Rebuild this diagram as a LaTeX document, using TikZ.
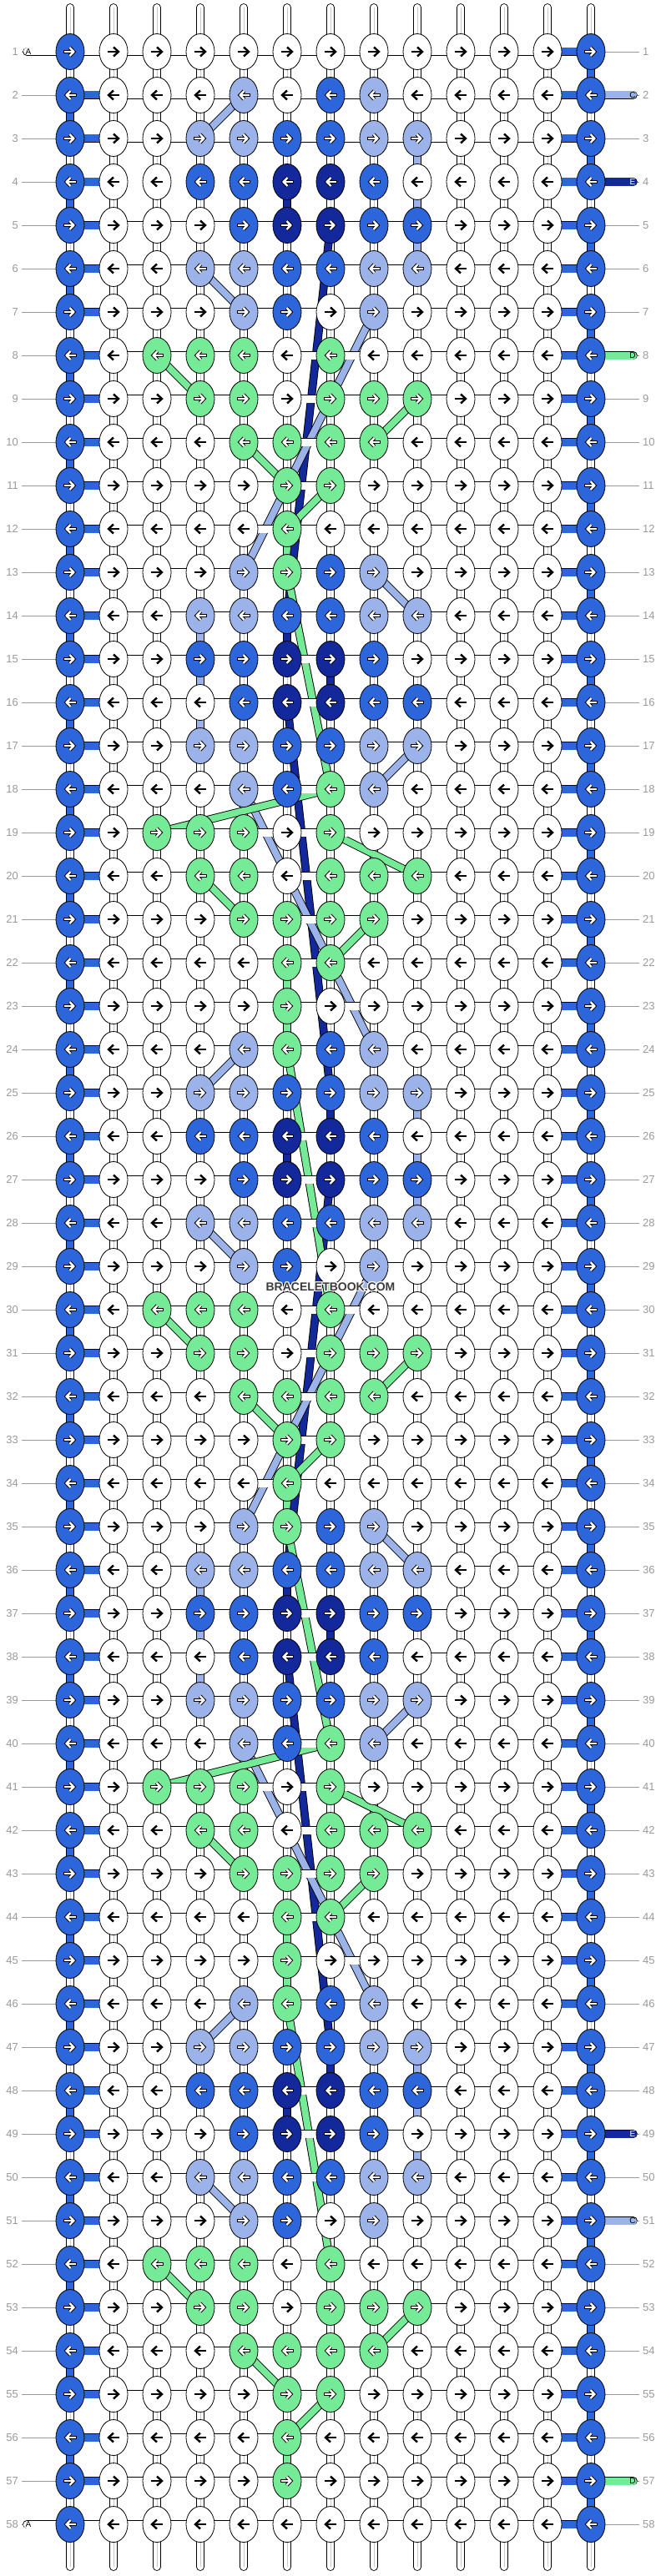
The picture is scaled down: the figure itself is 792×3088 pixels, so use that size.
\documentclass[tikz,border=0pt]{standalone}
\usepackage{fontspec}
\setmainfont{Liberation Sans}
\usetikzlibrary{shapes.geometric}
\definecolor{kB}{HTML}{2C66DA}
\definecolor{kL}{HTML}{9BB3E8}
\definecolor{kD}{HTML}{13289B}
\definecolor{kG}{HTML}{75EA97}
\definecolor{kW}{HTML}{FFFFFF}
\definecolor{lbl}{HTML}{9A9A9A}
\definecolor{midgray}{HTML}{C8C8C8}
\definecolor{wmk}{HTML}{3C3C3C}
\begin{document}
\begin{tikzpicture}[x=1pt,y=-1pt,
  knot/.style={ellipse, draw=black, line width=0.8pt, minimum width=34pt, minimum height=43pt, inner sep=0pt},
  thread/.style={double=#1, double distance=8pt, line width=0.9pt},
  hconn/.style={double=#1, double distance=9pt, line width=0.8pt},
  strand/.style={double=#1, double distance=8pt, line width=0.9pt},
  rowline/.style={draw=lbl, line width=0.8pt},
  rowlab/.style={text=lbl, font=\fontsize{13}{13}\selectfont, inner sep=0pt},
  taillab/.style={font=\fontsize{10}{10}\selectfont, inner sep=0pt},
  midline/.style={draw=midgray, line width=0.5pt},
  wmtext/.style={font=\bfseries\fontsize{14}{14}\selectfont, inner sep=0pt}
]
\useasboundingbox (0,0) rectangle (792,3088);
\fill[white] (0,0) rectangle (792,3088);

% grid coordinates
\foreach \r in {1,...,58}{
  \foreach \c in {1,...,13}{
    \coordinate (p-\r-\c) at ({32+52*\c},{10+52*\r});
  }
}

% row lines and labels
\foreach \r in {1,...,58}{
  \draw[rowline] (26,{10+52*\r}) -- (p-\r-1);
  \draw[rowline] (p-\r-13) -- (766,{10+52*\r});
  \node[rowlab, anchor=east] (ll-\r) at (22,{10+52*\r}) {\r};
  \node[rowlab, anchor=west] (rl-\r) at (770,{10+52*\r}) {\r};
}

% top and bottom thread ends
\foreach \c in {1,...,13}{
  \coordinate (t-\c) at ({32+52*\c},9);
  \coordinate (b-\c) at ({32+52*\c},3077);
  \draw[thread=white, line cap=round] (t-\c) -- (p-1-\c);
  \draw[midline] (t-\c) -- (p-1-\c);
  \draw[thread=white, line cap=round] (p-58-\c) -- (b-\c);
  \draw[midline] (p-58-\c) -- (b-\c);
}

% vertical connectors (white)
\foreach \r [evaluate=\r as \rn using {int(\r+1)}] in {1,...,57}{
  \foreach \c in {1,...,13}{
    \draw[thread=white] (p-\r-\c) -- (p-\rn-\c);
    \draw[midline] (p-\r-\c) -- (p-\rn-\c);
  }
}
% edge blue vertical connectors
\foreach \r [evaluate=\r as \rn using {int(\r+1)}] in {2,4,...,56}{
  \draw[thread=kB] (p-\r-1) -- (p-\rn-1);
}
\foreach \r [evaluate=\r as \rn using {int(\r+1)}] in {1,3,...,57}{
  \draw[thread=kB] (p-\r-13) -- (p-\rn-13);
}
% coloured vertical connectors
\foreach \r/\c/\col [evaluate=\r as \rn using {int(\r+1)}] in {
  4/6/kD, 14/6/kD, 15/7/kD, 25/7/kD, 26/6/kD, 36/6/kD, 37/7/kD, 47/7/kD, 48/6/kD,
  12/6/kG, 22/6/kG, 23/6/kG, 34/6/kG, 44/6/kG, 45/6/kG, 56/6/kG,
  3/9/kL, 4/9/kL, 5/9/kL, 14/4/kL, 15/4/kL, 16/4/kL, 25/9/kL, 26/9/kL, 27/9/kL,
  36/4/kL, 37/4/kL, 38/4/kL, 47/9/kL, 48/9/kL, 49/9/kL}{
  \draw[thread=\col] (p-\r-\c) -- (p-\rn-\c);
}

% hidden strands
\foreach \a/\b in {5-7/14-6, 16-6/25-7, 27-7/36-6, 38-6/47-7}{
  \draw[strand=kD] (p-\a) -- (p-\b);
}
\foreach \a/\b in {2-5/3-4, 6-4/7-5, 7-8/13-5, 13-8/14-9, 17-9/18-8, 18-5/24-8,
  24-5/25-4, 28-4/29-5, 29-8/35-5, 35-8/36-9, 39-9/40-8, 40-5/46-8, 46-5/47-4, 50-4/51-5}{
  \draw[strand=kL] (p-\a) -- (p-\b);
}
\foreach \a/\b in {8-3/9-4, 9-9/10-8, 10-5/11-6, 11-7/12-6, 13-6/18-7, 18-7/19-3,
  19-7/20-9, 20-4/21-5, 21-8/22-7, 24-6/30-7, 30-3/31-4, 31-9/32-8, 32-5/33-6,
  33-7/34-6, 35-6/40-7, 40-7/41-3, 41-7/42-9, 42-4/43-5, 43-8/44-7, 46-6/52-7,
  52-3/53-4, 53-9/54-8, 54-5/55-6, 55-7/56-6}{
  \draw[strand=kG] (p-\a) -- (p-\b);
}

% horizontal connectors
\foreach \r in {1,...,58}{
  \foreach \c [evaluate=\c as \cn using {int(\c+1)}] in {1,...,12}{
    \draw[hconn=white] (p-\r-\c) -- (p-\r-\cn);
  }
  \draw[hconn=kB] (p-\r-12) -- (p-\r-13);
}
\foreach \r in {2,...,57}{
  \draw[hconn=kB] (p-\r-1) -- (p-\r-2);
}

% tails
\coordinate (ta1) at (32.5,62);
\coordinate (ta58) at (32.5,3026);
\draw[hconn=white, line cap=round] (ta1) -- (p-1-1);
\draw[hconn=white, line cap=round] (ta58) -- (p-58-1);
\node[taillab] (la1) at (34,62) {A};
\node[taillab] (la58) at (34,3026) {A};
\foreach \r/\col/\txt/\tc in {2/kL/C/black, 4/kD/E/white, 8/kG/D/black, 49/kD/E/white, 51/kL/C/black, 57/kG/D/black}{
  \coordinate (te-\r) at (758.5,{10+52*\r});
  \draw[hconn=\col, line cap=round] (p-\r-13) -- (te-\r);
  \node[taillab, text=\tc] (lt-\r) at (758,{10+52*\r}) {\txt};
}

% knots
\foreach \r/\l in {
1/{B,W,W,W,W,W,W,W,W,W,W,W,B},
2/{B,W,W,W,L,W,B,L,W,W,W,W,B},
3/{B,W,W,L,L,B,B,L,L,W,W,W,B},
4/{B,W,W,B,B,D,D,B,W,W,W,W,B},
5/{B,W,W,W,B,D,D,B,B,W,W,W,B},
6/{B,W,W,L,L,B,B,L,L,W,W,W,B},
7/{B,W,W,W,L,B,W,L,W,W,W,W,B},
8/{B,W,G,G,G,W,G,W,W,W,W,W,B},
9/{B,W,W,G,G,W,G,G,G,W,W,W,B},
10/{B,W,W,W,G,G,G,G,W,W,W,W,B},
11/{B,W,W,W,W,G,G,W,W,W,W,W,B},
12/{B,W,W,W,W,G,W,W,W,W,W,W,B},
13/{B,W,W,W,L,G,B,L,W,W,W,W,B},
14/{B,W,W,L,L,B,B,L,L,W,W,W,B},
15/{B,W,W,B,B,D,D,B,W,W,W,W,B},
16/{B,W,W,W,B,D,D,B,B,W,W,W,B},
17/{B,W,W,L,L,B,B,L,L,W,W,W,B},
18/{B,W,W,W,L,B,G,L,W,W,W,W,B},
19/{B,W,G,G,G,W,G,W,W,W,W,W,B},
20/{B,W,W,G,G,W,G,G,G,W,W,W,B},
21/{B,W,W,W,G,G,G,G,W,W,W,W,B},
22/{B,W,W,W,W,G,G,W,W,W,W,W,B},
23/{B,W,W,W,W,G,W,W,W,W,W,W,B},
24/{B,W,W,W,L,G,B,L,W,W,W,W,B},
25/{B,W,W,L,L,B,B,L,L,W,W,W,B},
26/{B,W,W,B,B,D,D,B,W,W,W,W,B},
27/{B,W,W,W,B,D,D,B,B,W,W,W,B},
28/{B,W,W,L,L,B,B,L,L,W,W,W,B},
29/{B,W,W,W,L,B,W,L,W,W,W,W,B},
30/{B,W,G,G,G,W,G,W,W,W,W,W,B},
31/{B,W,W,G,G,W,G,G,G,W,W,W,B},
32/{B,W,W,W,G,G,G,G,W,W,W,W,B},
33/{B,W,W,W,W,G,G,W,W,W,W,W,B},
34/{B,W,W,W,W,G,W,W,W,W,W,W,B},
35/{B,W,W,W,L,G,B,L,W,W,W,W,B},
36/{B,W,W,L,L,B,B,L,L,W,W,W,B},
37/{B,W,W,B,B,D,D,B,B,W,W,W,B},
38/{B,W,W,W,B,D,D,B,W,W,W,W,B},
39/{B,W,W,L,L,B,B,L,L,W,W,W,B},
40/{B,W,W,W,L,B,G,L,W,W,W,W,B},
41/{B,W,G,G,G,W,G,W,W,W,W,W,B},
42/{B,W,W,G,G,W,G,G,G,W,W,W,B},
43/{B,W,W,W,G,G,G,G,W,W,W,W,B},
44/{B,W,W,W,W,G,G,W,W,W,W,W,B},
45/{B,W,W,W,W,G,W,W,W,W,W,W,B},
46/{B,W,W,W,L,G,B,L,W,W,W,W,B},
47/{B,W,W,L,L,B,B,L,L,W,W,W,B},
48/{B,W,W,B,B,D,D,B,B,W,W,W,B},
49/{B,W,W,W,B,D,D,B,W,W,W,W,B},
50/{B,W,W,L,L,B,B,L,L,W,W,W,B},
51/{B,W,W,W,L,B,W,L,W,W,W,W,B},
52/{B,W,G,G,G,W,G,W,W,W,W,W,B},
53/{B,W,W,G,G,W,G,G,G,W,W,W,B},
54/{B,W,W,W,G,G,G,G,W,W,W,W,B},
55/{B,W,W,W,W,G,G,W,W,W,W,W,B},
56/{B,W,W,W,W,G,W,W,W,W,W,W,B},
57/{B,W,W,W,W,G,W,W,W,W,W,W,B},
58/{B,W,W,W,W,W,W,W,W,W,W,W,B}}{
  \pgfmathtruncatemacro\dir{2*mod(\r,2)-1}
  \foreach \c [count=\i] in \l {
    \node[knot, fill=k\c] (k-\r-\i) at (p-\r-\i) {};
    \begin{scope}[shift={(p-\r-\i)}, xscale=\dir]
      \if\c W
        \draw[line width=2.4pt, line cap=butt] (-7,0) -- (5,0);
        \draw[line width=2.4pt, line cap=butt, line join=miter] (0,-5.5) -- (6,0) -- (0,5.5);
      \else
        \draw[line width=4.4pt, line cap=rect] (-6,0) -- (3.5,0);
        \draw[line width=4.4pt, line cap=butt, line join=miter] (-0.5,-5) -- (4.3,0) -- (-0.5,5);
        \draw[white, line width=2.4pt, line cap=rect] (-6,0) -- (3.5,0);
        \draw[white, line width=2.4pt, line cap=butt, line join=miter] (-0.5,-5) -- (4.3,0) -- (-0.5,5);
      \fi
    \end{scope}
  }
}

% watermark with light halo
\foreach \dx/\dy in {-1/0, 1/0, 0/-1, 0/1, -1/-1, 1/1, -1/1, 1/-1}{
  \node[wmtext, text=white] at ({396+\dx},{1543+\dy}) {BRACELETBOOK.COM};
}
\node[wmtext, text=wmk] (wm) at (396,1543) {BRACELETBOOK.COM};
\end{tikzpicture}
\end{document}
